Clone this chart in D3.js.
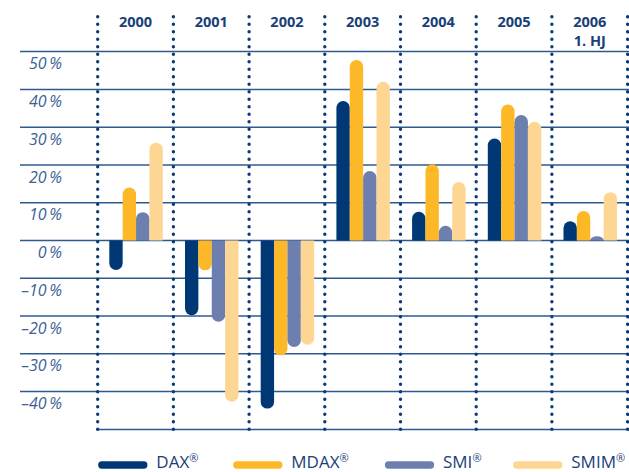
<!DOCTYPE html>
<html><head><meta charset="utf-8">
<script src="https://cdn.jsdelivr.net/npm/d3@7"></script>
<style>body{margin:0;background:#fff}svg{display:block}</style>
</head><body>
<script>
const years = ["2000","2001","2002","2003","2004","2005","2006"];
const yearSub = ["","","","","","","1. HJ"];
const series = ["DAX®","MDAX®","SMI®","SMIM®"];
const colors = ["#003876","#fdb827","#6d7fae","#fed693"];
const dax  = [-7.8, -19.8, -44.5, 36.9, 7.6, 27.0, 5.1];
const mdax = [14.0, -7.9, -30.4, 47.8, 20.2, 36.0, 7.8];
const smi  = [7.5, -21.5, -28.2, 18.4, 3.9, 33.2, 1.1];
const smim = [25.9, -42.7, -27.6, 42.0, 15.5, 31.4, 12.8];
const yTicks = [50,40,30,20,10,0,-10,-20,-30,-40];
const values = [dax, mdax, smi, smim];

const W = 629, H = 472;
const svg = d3.select("body").append("svg").attr("width", W).attr("height", H);

const y = d3.scaleLinear().domain([-50, 50]).range([429.4, 51.6]);
const x = d3.scaleBand().domain(years).range([97.7, 627.6]).paddingInner(0).paddingOuter(0);
const x1 = d3.scaleBand().domain(series).range([11.6, x.bandwidth() - 10.6]);

const gridColor = "#2d5a91";
svg.append("g").selectAll("line").data(yTicks).join("line")
  .attr("x1", 20).attr("x2", W)
  .attr("y1", d => y(d)).attr("y2", d => y(d))
  .attr("stroke", gridColor).attr("stroke-width", 1.5);
svg.append("line").attr("x1", 96).attr("x2", 626.5)
  .attr("y1", y(-50)).attr("y2", y(-50))
  .attr("stroke", gridColor).attr("stroke-width", 1.5);

svg.append("g").selectAll("text").data(yTicks).join("text")
  .attr("x", 62).attr("y", d => y(d) + 17.6)
  .attr("text-anchor", "end")
  .attr("font-family", "'Open Sans', sans-serif").attr("font-style", "italic")
  .attr("font-size", 16).attr("fill", "#3d5f95")
  .text(d => (d < 0 ? "\u2013" + Math.abs(d) : d) + "\u2009%");

const r = x1.bandwidth() / 2;
function barPath(v, x0) {
  const w = x1.bandwidth();
  const y0 = y(0), y1 = y(v);
  const len = Math.abs(y1 - y0);
  const ry = Math.min(r, len);
  if (v >= 0) {
    return `M${x0},${y0}V${y1 + ry}A${r},${ry} 0 0 1 ${x0 + w},${y1 + ry}V${y0}Z`;
  } else {
    return `M${x0},${y0}V${y1 - ry}A${r},${ry} 0 0 0 ${x0 + w},${y1 - ry}V${y0}Z`;
  }
}
const barData = [];
series.forEach((s, si) => years.forEach((yr, yi) => barData.push({s, si, yr, v: values[si][yi]})));
svg.append("g").selectAll("path").data(barData).join("path")
  .attr("d", d => barPath(d.v, x(d.yr) + x1(d.s)))
  .attr("fill", d => colors[d.si]);

const seps = years.map(d => x(d)).concat([x(years[years.length - 1]) + x.bandwidth()]);
svg.append("g").selectAll("line").data(seps).join("line")
  .attr("x1", d => d).attr("x2", d => d)
  .attr("y1", 16.8).attr("y2", 430)
  .attr("stroke", "#0b3a78").attr("stroke-width", 3.4)
  .attr("stroke-linecap", "round").attr("stroke-dasharray", "0 7.5");

const cat = svg.append("g").attr("font-family", "'Open Sans', sans-serif")
  .attr("font-weight", "bold").attr("font-size", 14.5).attr("fill", "#1a3f78")
  .attr("text-anchor", "middle");
cat.selectAll("text.yr").data(years).join("text").attr("class", "yr")
  .attr("x", d => x(d) + x.bandwidth() / 2).attr("y", 27).text(d => d);
cat.selectAll("text.sub").data(yearSub.map((t, i) => ({t, i})).filter(d => d.t)).join("text").attr("class", "sub")
  .attr("x", d => x(years[d.i]) + x.bandwidth() / 2).attr("y", 45.5).text(d => d.t);

const legX = [98.3, 233.3, 385, 513.3];
const lg = svg.append("g").selectAll("g").data(series).join("g")
  .attr("transform", (d, i) => `translate(${legX[i]},465)`);
lg.append("line").attr("x1", 3.5).attr("x2", 45.5).attr("y1", 0).attr("y2", 0)
  .attr("stroke", (d, i) => colors[i]).attr("stroke-width", 7.3).attr("stroke-linecap", "round");
lg.append("text").attr("x", 58).attr("y", 2.5)
  .attr("font-family", "'Open Sans', sans-serif").attr("font-size", 17).attr("fill", "#1a3f78")
  .each(function(d) {
    const t = d3.select(this);
    t.append("tspan").text(d.replace("®", ""));
    t.append("tspan").attr("font-size", 11).attr("dy", -6).text("®");
  });
</script>
</body></html>
